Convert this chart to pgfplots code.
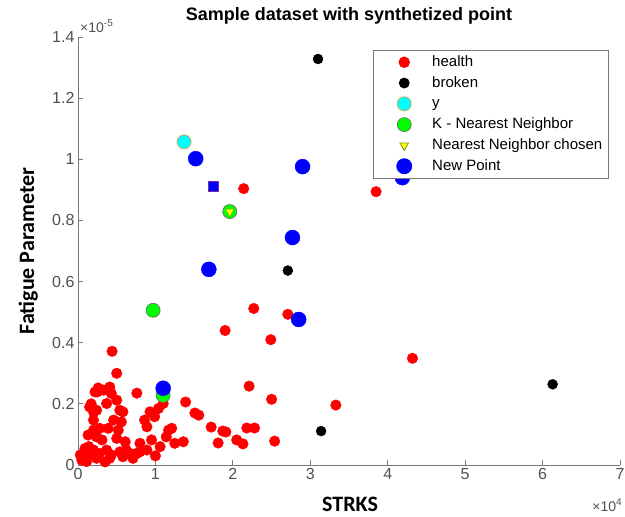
\documentclass[border=0pt]{standalone}
\usepackage{pgfplots}
\pgfplotsset{compat=1.18}
\usepackage{fontspec}
\setmainfont{Liberation Sans}
\newfontfamily\labelfont{Carlito}
\definecolor{axgray}{RGB}{120,120,120}
\definecolor{tickgray}{RGB}{80,80,80}
\definecolor{cyanfill}{RGB}{0,255,255}
\definecolor{cyanedge}{RGB}{200,170,90}
\definecolor{greenfill}{RGB}{0,255,0}
\definecolor{greenedge}{RGB}{100,130,100}
\definecolor{yellowfill}{RGB}{255,255,0}
\definecolor{trianedge}{RGB}{140,150,20}
\definecolor{redfill}{RGB}{255,0,0}
\definecolor{bluefill}{RGB}{0,0,255}
\definecolor{sqedge}{RGB}{112,48,160}

\pgfplotstableread{
x y
2.14 0.904
3.85 0.894
2.27 0.512
2.71 0.493
1.90 0.440
2.49 0.410
4.32 0.349
3.33 0.196
2.54 0.078
0.44 0.372
0.50 0.300
2.21 0.258
2.50 0.215
1.39 0.206
0.76 0.235
1.51 0.170
1.56 0.163
1.72 0.124
1.87 0.111
1.91 0.108
1.81 0.072
2.05 0.082
2.13 0.069
2.18 0.121
2.28 0.121
0.26 0.252
0.25 0.239
0.33 0.245
0.41 0.255
0.43 0.234
0.50 0.212
0.37 0.201
0.20 0.174
0.24 0.179
0.54 0.179
0.58 0.174
0.46 0.147
0.56 0.141
0.20 0.147
0.28 0.120
0.20 0.114
0.52 0.114
0.93 0.174
1.04 0.185
1.10 0.201
0.86 0.147
0.89 0.125
1.17 0.114
1.21 0.120
1.14 0.092
0.13 0.098
0.24 0.092
0.31 0.082
0.50 0.087
0.61 0.076
0.09 0.054
0.20 0.049
0.37 0.049
0.54 0.043
0.67 0.038
0.80 0.043
0.89 0.049
0.95 0.082
1.06 0.060
1.25 0.071
1.36 0.076
0.05 0.016
0.11 0.011
0.24 0.022
0.41 0.022
0.58 0.027
0.71 0.022
0.15 0.033
0.28 0.038
0.43 0.033
0.03 0.033
0.80 0.071
0.76 0.038
0.99 0.158
0.39 0.120
0.15 0.190
0.17 0.200
0.22 0.239
0.14 0.060
0.10 0.020
0.62 0.050
1.00 0.030
0.35 0.010
}\health

\pgfplotstableread{
x y
3.10 1.328
2.71 0.636
3.14 0.111
6.13 0.264
}\broken

\pgfplotstableread{
x y
1.37 1.057
}\ypt

\pgfplotstableread{
x y
0.97 0.506
1.96 0.829
1.10 0.228
}\knn

\pgfplotstableread{
x y
1.96 0.829
}\nnchosen

\pgfplotstableread{
x y
1.52 1.002
2.90 0.976
2.77 0.744
1.69 0.640
2.85 0.476
4.19 0.940
1.10 0.251
}\newpt

\pgfplotstableread{
x y
1.75 0.910
}\sqpt

\begin{document}
\begin{tikzpicture}
\useasboundingbox (0,0) rectangle (625pt,517pt);
\begin{axis}[
  name=ax,
  at={(78pt,52pt)}, anchor=south west,
  scale only axis, width=542pt, height=428pt,
  xmin=0, xmax=7, ymin=0, ymax=1.4,
  clip=false,
  axis x line=bottom, axis y line=left,
  axis line style={-, axgray, line width=0.8pt},
  tick align=inside, major tick length=5pt,
  tick style={axgray, line width=0.8pt},
  xtick={0,1,2,3,4,5,6,7},
  ytick={0,0.2,0.4,0.6,0.8,1,1.2,1.4},
  yticklabels={0,0.2,0.4,0.6,0.8,1,1.2,1.4},
  /pgf/number format/assume math mode=true,
  ticklabel style={font=\fontsize{16}{18}\selectfont, text=tickgray},
  title={Sample dataset with synthetized point},
  title style={font=\bfseries\fontsize{18}{20}\selectfont, at={(axis description cs:0.5,1.035)}, anchor=center},
  xlabel={STRKS},
  ylabel={Fatigue Parameter},
  xlabel style={font=\labelfont\bfseries\fontsize{22}{24}\selectfont, inner sep=0pt, at={(axis description cs:0.502,-0.091)}, anchor=center},
  ylabel style={font=\labelfont\bfseries\fontsize{22}{24}\selectfont, inner sep=0pt, at={(axis description cs:-0.092,0.5)}, anchor=center},
  legend cell align=left,
  legend image code/.code={\path[draw=none,fill=none] (0pt,-5pt) rectangle (37pt,5pt); \draw[#1, overlay] plot coordinates {(25pt,0pt)};},
  legend style={at={(axis description cs:0.544,0.970)}, anchor=north west,
    draw=axgray, line width=0.8pt, fill=white,
    font=\fontsize{15}{17}\selectfont,
    inner xsep=6pt, inner ysep=5pt,
    column sep=16pt, row sep=6.8pt,
    nodes={inner sep=0pt, text height=11pt, text depth=3pt}},
]
\addplot[only marks, mark=*, mark size=5.3pt, draw=redfill, fill=redfill] table {\health};
\addlegendentry{health}
\addplot[only marks, mark=*, mark size=5pt, draw=black, fill=black] table {\broken};
\addlegendentry{broken}
\addplot[only marks, mark=*, mark size=7pt, draw=cyanedge, fill=cyanfill, line width=0.8pt] table {\ypt};
\addlegendentry{y}
\addplot[only marks, mark=*, mark size=7pt, draw=greenedge, fill=greenfill, line width=0.8pt] table {\knn};
\addlegendentry{K - Nearest Neighbor}
\addplot[only marks, mark=triangle*, mark options={rotate=180}, mark size=5pt, draw=trianedge, fill=yellowfill] table {\nnchosen};
\addlegendentry{Nearest Neighbor chosen}
\addplot[only marks, mark=*, mark size=7.5pt, draw=bluefill, fill=bluefill] table {\newpt};
\addlegendentry{New Point}
\addplot[only marks, mark=square*, mark size=5pt, draw=sqedge, fill=bluefill, line width=0.8pt, forget plot] table {\sqpt};
\end{axis}
\node[anchor=base west, font=\fontsize{14}{16}\selectfont, text=tickgray, inner sep=0pt] at ([yshift=4pt,xshift=2pt]ax.north west) {×10\raisebox{0.45em}{\fontsize{10}{12}\selectfont -5}};
\node[anchor=base east, font=\fontsize{14}{16}\selectfont, text=tickgray, inner sep=0pt] at ([yshift=-47pt,xshift=2pt]ax.south east) {×10\raisebox{0.45em}{\fontsize{10}{12}\selectfont 4}};
\end{tikzpicture}
\end{document}
